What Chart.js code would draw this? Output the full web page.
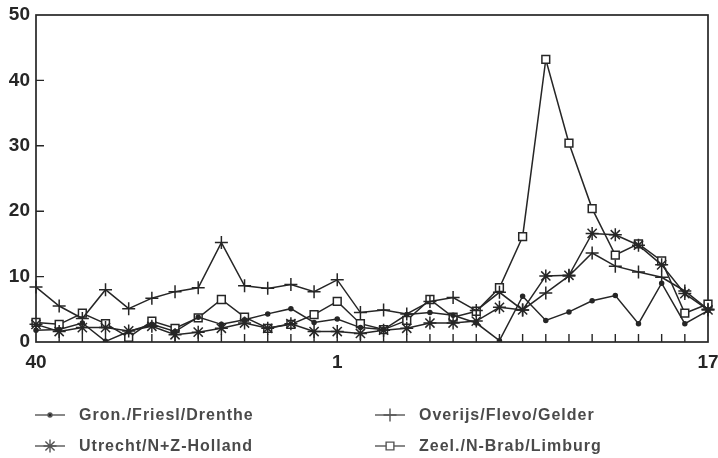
<!DOCTYPE html>
<html>
<head>
<meta charset="utf-8">
<script src="https://cdn.jsdelivr.net/npm/chart.js@4/dist/chart.umd.min.js"></script>
<style>
    body { margin: 0; background: #fff; }
    #wrap { width: 718px; height: 458px; }
</style>
</head>
<body>
<div id="wrap"><canvas id="weekly-chart" width="718" height="458"></canvas></div>
<script>
// weeks 40..52 and 1..17
var weeks = ['40', '41', '42', '43', '44', '45', '46', '47', '48', '49', '50', '51', '52',
    '1', '2', '3', '4', '5', '6', '7', '8', '9', '10', '11', '12', '13', '14', '15', '16', '17'];
var shownWeeks = ['40', '1', '17'];

var gron = [1.8, 1.9, 2.9, 0.1, 1.6, 2.7, 1.6, 3.8, 2.7, 3.4, 4.3, 5.1, 3.0, 3.5, 2.2,
    1.9, 4.2, 4.5, 4.1, 2.9, 0.2, 7.0, 3.3, 4.6, 6.3, 7.1, 2.8, 9.0, 2.8, 4.8];
var overijs = [8.4, 5.5, 3.6, 8.0, 5.1, 6.7, 7.7, 8.3, 15.2, 8.6, 8.2, 8.8, 7.7, 9.5, 4.5,
    4.9, 4.3, 6.2, 6.8, 4.8, 7.6, 4.9, 7.5, 10.1, 13.6, 11.6, 10.7, 9.9, 7.8, 5.0];
var utrecht = [2.7, 1.6, 2.2, 2.2, 1.7, 2.4, 1.1, 1.5, 2.1, 2.9, 2.1, 2.8, 1.6, 1.6, 1.3,
    1.8, 2.1, 2.9, 2.9, 3.2, 5.3, 4.9, 10.1, 10.2, 16.6, 16.4, 14.8, 11.8, 7.4, 4.9];
var zeel = [3.0, 2.7, 4.4, 2.8, 0.7, 3.2, 2.1, 3.7, 6.5, 3.8, 2.1, 2.7, 4.2, 6.2, 2.8,
    1.9, 3.3, 6.5, 3.8, 4.7, 8.3, 16.1, 43.2, 30.4, 20.4, 13.3, 15.0, 12.4, 4.4, 5.8];

var seriesNames = ['Gron./Friesl/Drenthe', 'Overijs/Flevo/Gelder', 'Utrecht/N+Z-Holland', 'Zeel./N-Brab/Limburg'];
var yTicks = [0, 10, 20, 30, 40, 50];

var ink = '#262626';
var fontFamily = '"Liberation Sans", Arial, Helvetica, sans-serif';

function lineSet(label, data, style, radius, fill) {
    return {
        label: label,
        data: data,
        borderColor: ink,
        borderWidth: 1.5,
        tension: 0,
        pointStyle: style,
        pointRadius: radius,
        pointBorderColor: ink,
        pointBorderWidth: 1.5,
        pointBackgroundColor: fill
    };
}

// frame box and the little inward ticks, plus the legend underneath
var framePlugin = {
    id: 'frame',
    beforeDatasetsDraw: function(chart) {
        var ctx = chart.ctx;
        var area = chart.chartArea;
        var x = chart.scales.x;
        var y = chart.scales.y;
        ctx.save();
        ctx.strokeStyle = ink;
        ctx.lineWidth = 1.7;
        ctx.strokeRect(area.left, area.top, area.right - area.left, area.bottom - area.top);
        ctx.lineWidth = 1.4;
        ctx.beginPath();
        for (var i = 1; i < weeks.length - 1; i++) {
            var px = x.getPixelForValue(i);
            ctx.moveTo(px, area.bottom);
            ctx.lineTo(px, area.bottom - 8);
        }
        for (var j = 1; j < yTicks.length - 1; j++) {
            var py = y.getPixelForValue(yTicks[j]);
            ctx.moveTo(area.left, py);
            ctx.lineTo(area.left + 8, py);
        }
        ctx.stroke();
        ctx.restore();
    },
    afterDraw: function(chart) {
        var ctx = chart.ctx;
        var cols = [35, 375];
        var rows = [415, 446];
        ctx.save();
        chart.data.datasets.forEach(function(ds, i) {
            var lx = cols[i % 2];
            var ly = rows[Math.floor(i / 2)];
            ctx.strokeStyle = '#555';
            ctx.lineWidth = 1.4;
            ctx.beginPath();
            ctx.moveTo(lx, ly);
            ctx.lineTo(lx + 30, ly);
            ctx.stroke();
            ctx.fillStyle = ds.pointBackgroundColor;
            Chart.helpers.drawPoint(ctx, {
                pointStyle: ds.pointStyle,
                radius: ds.pointRadius,
                rotation: 0,
                borderWidth: 1.4
            }, lx + 15, ly);
            ctx.fillStyle = '#4a4a4a';
            ctx.font = 'bold 16px ' + fontFamily;
            ctx.letterSpacing = '1px';
            ctx.textBaseline = 'middle';
            ctx.fillText(ds.label, lx + 44, ly + 1);
            ctx.letterSpacing = '0px';
        });
        ctx.restore();
    }
};

var chart = new Chart(document.getElementById('weekly-chart'), {
    type: 'line',
    data: {
        labels: weeks,
        datasets: [
            lineSet(seriesNames[0], gron, 'circle', 2, ink),
            lineSet(seriesNames[1], overijs, 'cross', 6.5, ink),
            lineSet(seriesNames[2], utrecht, 'star', 6.5, ink),
            lineSet(seriesNames[3], zeel, 'rect', 5.5, '#fff')
        ]
    },
    options: {
        responsive: false,
        devicePixelRatio: 1,
        animation: false,
        events: [],
        layout: { padding: { left: 0, right: 10, top: 15, bottom: 76 } },
        plugins: {
            legend: { display: false },
            tooltip: { enabled: false }
        },
        scales: {
            x: {
                type: 'category',
                offset: false,
                grid: { display: false, drawTicks: false },
                border: { display: false },
                ticks: {
                    autoSkip: false,
                    maxRotation: 0,
                    padding: 9,
                    color: ink,
                    font: { family: fontFamily, size: 19, weight: 'bold' },
                    callback: function(value, index) {
                        var w = weeks[index];
                        return (shownWeeks.indexOf(w) >= 0 && (index === 0 || index === 13 || index === weeks.length - 1)) ? w : '';
                    }
                },
                afterFit: function(scale) {
                    scale.height = 40;
                    scale.paddingLeft = 0;
                    scale.paddingRight = 0;
                }
            },
            y: {
                min: 0,
                max: 50,
                grid: { display: false, drawTicks: false },
                border: { display: false },
                afterBuildTicks: function(scale) {
                    scale.ticks = yTicks.map(function(v) { return { value: v }; });
                },
                ticks: {
                    padding: 6,
                    color: ink,
                    font: { family: fontFamily, size: 19, weight: 'bold' }
                },
                afterFit: function(scale) {
                    scale.width = 36;
                    scale.paddingTop = 0;
                    scale.paddingBottom = 0;
                }
            }
        }
    },
    plugins: [framePlugin]
});
</script>
</body>
</html>
